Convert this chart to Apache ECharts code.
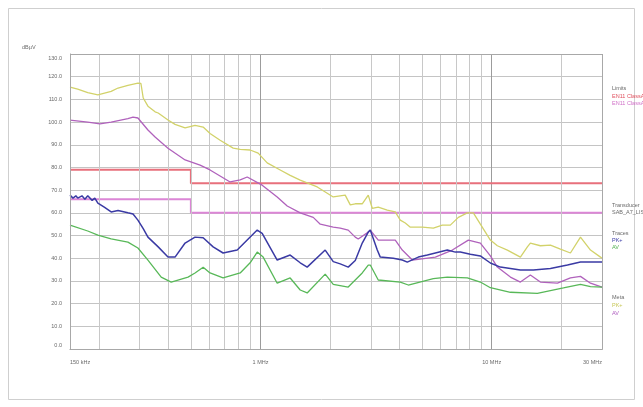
<!DOCTYPE html>
<html>
<head>
<meta charset="utf-8">
<script src="https://cdn.jsdelivr.net/npm/echarts@6/dist/echarts.min.js"></script>
<style>
  html, body { margin: 0; padding: 0; background: #fff; }
  #chart { width: 643px; height: 407px; }
</style>
</head>
<body>
<div id="chart"></div>
<script>
// Conducted emission scan, 150 kHz .. 30 MHz, levels in dBµV (frequency in MHz)
const yTicks = [0, 10, 20, 30, 40, 50, 60, 70, 80, 90, 100, 110, 120, 130];
const minorFreqs = [0.2, 0.3, 0.4, 0.5, 0.6, 0.7, 0.8, 0.9, 2, 3, 4, 5, 6, 7, 8, 9, 20];

// EN 55011 class A limits
const limitQP = [[0.15, 79], [0.5, 79], [0.5, 73], [30, 73]];
const limitAV = [[0.15, 66], [0.5, 66], [0.5, 60], [30, 60]];

// Meta (preview) traces
const metaPK = [
  [0.150, 115.4], [0.162, 114.5], [0.179, 113], [0.198, 112], [0.226, 113.5], [0.242, 115],
  [0.267, 116.2], [0.295, 117.2], [0.304, 117], [0.311, 110.6], [0.326, 107], [0.350, 104.5],
  [0.361, 104], [0.398, 100.9], [0.427, 99], [0.472, 97.4], [0.521, 98.5], [0.565, 97.8],
  [0.605, 95], [0.669, 92], [0.762, 88.5], [0.817, 88], [0.902, 87.7], [0.977, 86.3],
  [1.069, 82], [1.217, 78.9], [1.344, 76.5], [1.485, 74.4], [1.760, 71.4], [2.064, 67],
  [2.325, 67.8], [2.445, 63.5], [2.570, 64], [2.755, 64], [2.925, 67.8], [3.044, 62],
  [3.231, 62.5], [3.535, 61.2], [3.828, 60.4], [4.024, 56.8], [4.229, 55.5], [4.447, 53.7],
  [5.012, 53.7], [5.592, 53.3], [6.116, 54.6], [6.624, 54.6], [7.175, 58], [7.848, 60],
  [8.330, 60], [8.933, 55], [9.869, 48], [10.58, 45.5], [11.69, 43.6], [13.31, 40.5],
  [14.27, 45], [14.70, 46.7], [16.24, 45.5], [17.95, 45.8], [19.83, 44], [21.91, 42.3],
  [24.21, 49.3], [26.75, 43.6], [29.55, 40.5], [30.0, 40]
];
const metaAV = [
  [0.150, 100.9], [0.179, 100], [0.202, 99.2], [0.226, 100], [0.267, 101.5], [0.281, 102.2],
  [0.295, 101.8], [0.326, 96.5], [0.350, 93.4], [0.398, 88.5], [0.472, 83.3], [0.548, 81],
  [0.605, 78.9], [0.739, 73.6], [0.817, 74.5], [0.876, 75.8], [1.017, 72.2], [1.181, 67],
  [1.305, 63], [1.485, 60], [1.691, 58], [1.814, 55], [2.064, 53.7], [2.213, 53.3],
  [2.396, 52.4], [2.570, 49.3], [2.647, 48.5], [2.925, 51.5], [2.984, 52.4], [3.231, 48],
  [3.828, 48], [4.105, 43.6], [4.536, 39.2], [5.706, 40.5], [6.759, 43.6], [7.926, 48],
  [8.933, 46.7], [9.869, 41], [10.58, 36.1], [12.05, 31.7], [13.31, 29.5], [14.70, 32.6],
  [16.24, 29.5], [19.25, 29], [21.91, 31.3], [24.21, 32], [26.75, 29], [30.0, 27.3]
];

// Final traces
const tracePK = [
  [0.150, 67.8], [0.1545, 66.5], [0.159, 67.5], [0.162, 66.5], [0.169, 67.5], [0.174, 66],
  [0.179, 67.5], [0.187, 65.5], [0.192, 66.5], [0.198, 64.3], [0.211, 62.5], [0.226, 60.4],
  [0.242, 61], [0.267, 60], [0.281, 59.5], [0.295, 56.8], [0.311, 53], [0.326, 49.3],
  [0.361, 45], [0.398, 40.5], [0.427, 40.5], [0.472, 46.7], [0.521, 49.3], [0.565, 49],
  [0.624, 45], [0.689, 42.3], [0.793, 43.6], [0.876, 48], [0.968, 52.4], [1.017, 51],
  [1.181, 39.2], [1.344, 41.4], [1.485, 38], [1.592, 36.1], [1.905, 43.6], [2.064, 38.5],
  [2.213, 37.5], [2.396, 36.1], [2.570, 39], [2.755, 46.7], [2.925, 51.5], [2.984, 52.4],
  [3.200, 43.6], [3.297, 40.5], [3.753, 40], [4.105, 39.2], [4.314, 38.3], [4.817, 40.5],
  [5.268, 41.4], [5.706, 42.3], [6.429, 43.6], [6.963, 42.7], [7.317, 42.7], [8.085, 41.8],
  [8.933, 41], [9.869, 37.9], [10.90, 36.1], [13.31, 34.8], [15.15, 34.8], [17.95, 35.5],
  [21.27, 37], [24.21, 38.3], [30.0, 38.3]
];
const traceAV = [
  [0.150, 54.6], [0.179, 52], [0.198, 50.2], [0.226, 48.5], [0.267, 47.1], [0.295, 44.5],
  [0.326, 39.2], [0.372, 31.7], [0.411, 29.5], [0.486, 31.7], [0.521, 33.5], [0.565, 36],
  [0.605, 33.5], [0.689, 31.3], [0.817, 33.5], [0.902, 38], [0.968, 42.7], [1.027, 40.5],
  [1.181, 29], [1.344, 31.3], [1.485, 26], [1.592, 24.7], [1.905, 33], [2.064, 28.5],
  [2.396, 27.3], [2.755, 33.5], [2.925, 37], [2.984, 37], [3.231, 30.4], [4.024, 29.5],
  [4.357, 28.2], [5.592, 31], [6.429, 31.7], [7.848, 31.3], [8.933, 29.5], [9.869, 27],
  [12.05, 25], [15.76, 24.5], [20.43, 26.9], [24.21, 28.5], [26.75, 27.5], [30.0, 27.3]
];

const FONT = 'Liberation Sans, Arial, sans-serif';
const TXT = '#6a6a6a';

function freqLabel(v) {
  if (v < 1) return Math.round(v * 1000) + ' kHz';
  return Math.round(v) + ' MHz';
}

// end labels of the level axis sit just inside the plot frame
function levelLabel(v) {
  const s = v.toFixed(1);
  if (v === yTicks[yTicks.length - 1]) return '{top|' + s + '}';
  if (v === yTicks[0]) return '{bot|' + s + '}';
  return s;
}

const chart = echarts.init(document.getElementById('chart'), null, { renderer: 'canvas' });

function line(name, data, color, width, z) {
  return {
    name, type: 'line', data, symbol: 'none', smooth: false, z: z || 3,
    lineStyle: { color, width }, emphasis: { disabled: true }, animation: false
  };
}

function legendText(x, y, text, color) {
  return { type: 'text', left: x, top: y,
    style: { text, fill: color || TXT, font: '5.5px ' + FONT } };
}

chart.setOption({
  animation: false,
  backgroundColor: '#fff',
  grid: { left: 70, right: 41, top: 54, bottom: 58, containLabel: false },
  xAxis: {
    type: 'log', logBase: 10, min: 0.15, max: 30,
    axisLine: { show: true, lineStyle: { color: '#9a9a9a', width: 1 } },
    axisTick: { show: false },
    axisLabel: {
      formatter: freqLabel, color: TXT, fontSize: 5.5, fontFamily: FONT, margin: 10,
      showMinLabel: true, showMaxLabel: true, alignMinLabel: 'left', alignMaxLabel: 'right'
    },
    splitLine: { show: true, lineStyle: { color: '#9c9c9c', width: 1 } },
    minorTick: { show: false }, minorSplitLine: { show: false }
  },
  yAxis: {
    type: 'value', min: yTicks[0], max: yTicks[yTicks.length - 1], interval: 10,
    axisLine: { show: true, lineStyle: { color: '#9a9a9a', width: 1 } },
    axisTick: { show: false },
    axisLabel: {
      formatter: levelLabel, color: TXT, fontSize: 5.5, fontFamily: FONT, margin: 8,
      rich: {
        top: { fontSize: 5.5, fontFamily: FONT, color: TXT, padding: [8, 0, 0, 0] },
        bot: { fontSize: 5.5, fontFamily: FONT, color: TXT, padding: [0, 0, 7, 0] }
      }
    },
    splitLine: { show: true, lineStyle: { color: '#c4c4c4', width: 1 } }
  },
  graphic: [
    { type: 'rect', shape: { x: 8.5, y: 8.5, width: 626, height: 391 },
      style: { fill: 'none', stroke: '#cfcfcf', lineWidth: 1 }, silent: true },
    { type: 'rect', shape: { x: 70.5, y: 54.5, width: 532, height: 295 },
      style: { fill: 'none', stroke: '#a8a8a8', lineWidth: 1 }, silent: true, z: 10 },
    legendText(22, 44, 'dBµV'),
    legendText(612, 85, 'Limits'),
    legendText(612, 93, 'EN11 ClassA QP', '#e0505e'),
    legendText(612, 100, 'EN11 ClassA AV', '#d070c8'),
    legendText(612, 202, 'Transducer'),
    legendText(612, 209, 'SAB_A7_LISN'),
    legendText(612, 230, 'Traces'),
    legendText(612, 237, 'PK+', '#3c3ca8'),
    legendText(612, 244, 'AV', '#50b050'),
    legendText(612, 294, 'Meta'),
    legendText(612, 302, 'PK+', '#c8c858'),
    legendText(612, 310, 'AV', '#b060c0')
  ],
  series: [
    {
      type: 'line', data: [], silent: true,
      markLine: {
        silent: true, symbol: 'none', animation: false, label: { show: false },
        lineStyle: { color: '#c8c8c8', width: 1, type: 'solid' },
        data: minorFreqs.map(f => ({ xAxis: f }))
      }
    },
    line('EN11 ClassA QP', limitQP, '#e8707c', 2, 4),
    line('EN11 ClassA AV', limitAV, '#dc86d6', 2, 4),
    line('Meta PK+', metaPK, '#d2d26a', 1.3, 5),
    line('Meta AV', metaAV, '#b062bc', 1.3, 5),
    line('AV', traceAV, '#58b858', 1.3, 6),
    line('PK+', tracePK, '#3a3aa4', 1.5, 7)
  ]
});
</script>
</body>
</html>
